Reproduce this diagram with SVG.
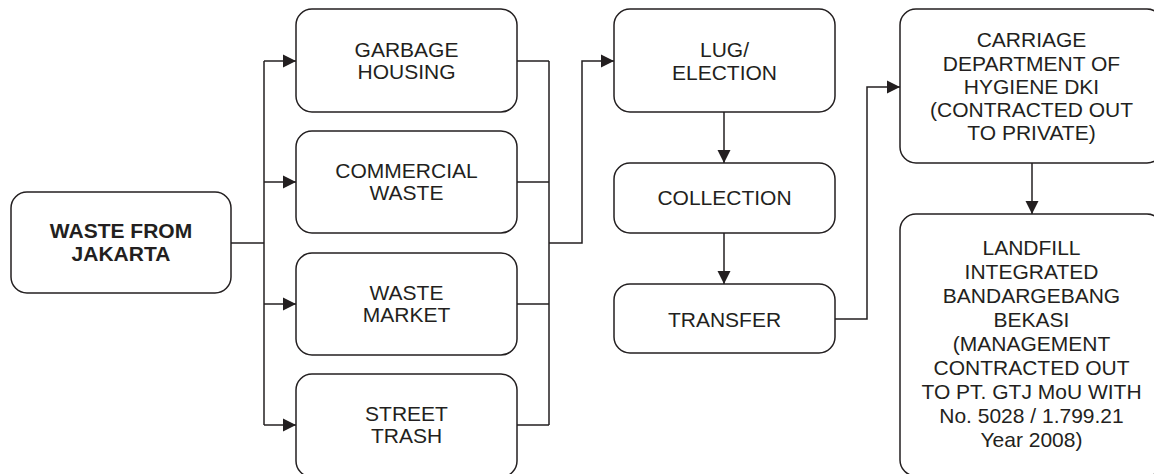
<svg xmlns="http://www.w3.org/2000/svg" width="1154" height="474" viewBox="0 0 1154 474">
<style>
.box{fill:#fff;stroke:#231f20;stroke-width:1.5}
.t{font-family:"Liberation Sans",Arial,sans-serif;font-size:21px;fill:#231f20;text-anchor:middle}
.b{font-weight:bold;font-size:21px}
.c{fill:none;stroke:#231f20;stroke-width:1.5}
</style>
<defs>
<marker id="ah" markerUnits="userSpaceOnUse" markerWidth="14" markerHeight="14" viewBox="0 0 14 14" refX="13" refY="7" orient="auto">
<path d="M0,0.5 L13,7 L0,13.5 Z" fill="#231f20"/>
</marker>
</defs>
<rect width="1154" height="474" fill="#fff"/>
<g id="connectors">
<path class="c" d="M231,243 H264"/>
<path class="c" d="M264,61 V425"/>
<path class="c" d="M264,61 H296" marker-end="url(#ah)"/>
<path class="c" d="M264,182 H296" marker-end="url(#ah)"/>
<path class="c" d="M264,304 H296" marker-end="url(#ah)"/>
<path class="c" d="M264,425 H296" marker-end="url(#ah)"/>
<path class="c" d="M517,61 H549 M517,182 H549 M517,304 H549 M517,425 H549 M549,61 V425"/>
<path class="c" d="M549,243 H582 V61 H614" marker-end="url(#ah)"/>
<path class="c" d="M724,112 V163" marker-end="url(#ah)"/>
<path class="c" d="M724,233 V284" marker-end="url(#ah)"/>
<path class="c" d="M835,319 H867 V87 H900" marker-end="url(#ah)"/>
<path class="c" d="M1032,163 V214" marker-end="url(#ah)"/>
</g>
<g id="n-jakarta">
<rect class="box" x="11" y="192" width="220" height="101" rx="16"/>
<text class="t b" x="121" y="238">WASTE FROM</text>
<text class="t b" x="121" y="261">JAKARTA</text>
</g>
<g id="n-garbage">
<rect class="box" x="296" y="9" width="221" height="103" rx="16"/>
<text class="t" x="406.5" y="56.5">GARBAGE</text>
<text class="t" x="406.5" y="79">HOUSING</text>
</g>
<g id="n-commercial">
<rect class="box" x="296" y="131" width="221" height="102" rx="16"/>
<text class="t" x="406.5" y="177.5">COMMERCIAL</text>
<text class="t" x="406.5" y="200">WASTE</text>
</g>
<g id="n-market">
<rect class="box" x="296" y="253" width="221" height="102" rx="16"/>
<text class="t" x="406.5" y="299.5">WASTE</text>
<text class="t" x="406.5" y="322">MARKET</text>
</g>
<g id="n-street">
<rect class="box" x="296" y="374" width="221" height="103" rx="16"/>
<text class="t" x="406.5" y="420.5">STREET</text>
<text class="t" x="406.5" y="443">TRASH</text>
</g>
<g id="n-lug">
<rect class="box" x="614" y="9" width="221" height="103" rx="16"/>
<text class="t" x="724.5" y="57">LUG/</text>
<text class="t" x="724.5" y="80">ELECTION</text>
</g>
<g id="n-collection">
<rect class="box" x="614" y="163" width="221" height="70" rx="16"/>
<text class="t" x="724.5" y="205">COLLECTION</text>
</g>
<g id="n-transfer">
<rect class="box" x="614" y="284" width="221" height="69" rx="16"/>
<text class="t" x="724.5" y="327">TRANSFER</text>
</g>
<g id="n-carriage">
<rect class="box" x="900" y="9" width="263" height="154" rx="16"/>
<text class="t" x="1031.5" y="47">CARRIAGE</text>
<text class="t" x="1031.5" y="70.5">DEPARTMENT OF</text>
<text class="t" x="1031.5" y="93.5">HYGIENE DKI</text>
<text class="t" x="1031.5" y="116.5">(CONTRACTED OUT</text>
<text class="t" x="1031.5" y="139.5">TO PRIVATE)</text>
</g>
<g id="n-landfill">
<rect class="box" x="900" y="214" width="263" height="262" rx="16"/>
<text class="t" x="1031.5" y="255">LANDFILL</text>
<text class="t" x="1031.5" y="279">INTEGRATED</text>
<text class="t" x="1031.5" y="303">BANDARGEBANG</text>
<text class="t" x="1031.5" y="327">BEKASI</text>
<text class="t" x="1031.5" y="351">(MANAGEMENT</text>
<text class="t" x="1031.5" y="375">CONTRACTED OUT</text>
<text class="t" x="1031.5" y="399">TO PT. GTJ MoU WITH</text>
<text class="t" x="1031.5" y="423">No. 5028 / 1.799.21</text>
<text class="t" x="1031.5" y="447">Year 2008)</text>
</g>
</svg>
